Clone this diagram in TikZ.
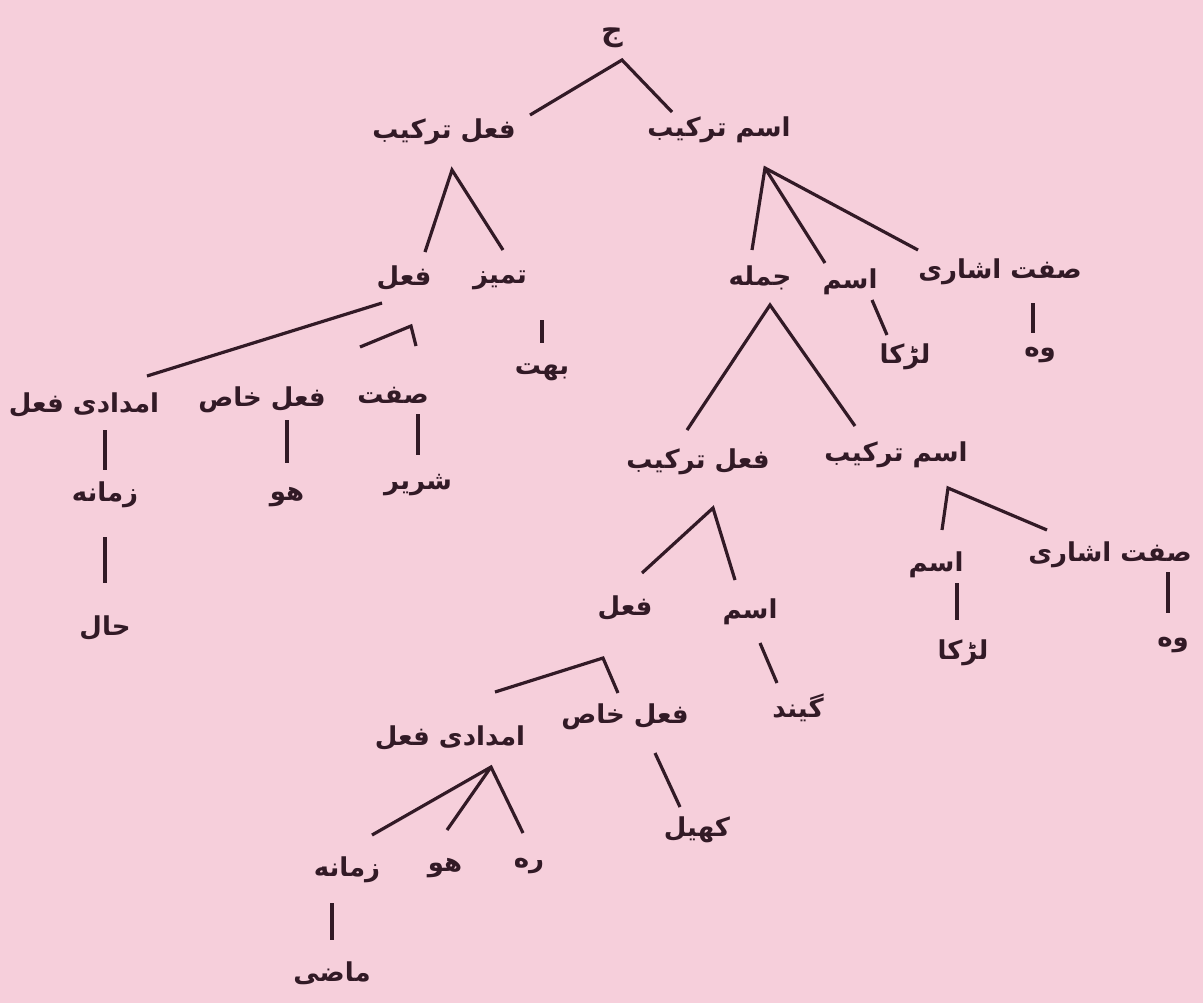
\documentclass[tikz,border=0pt]{standalone}
\usepackage{fontspec}
\usepackage{xcolor}
\usepackage{tikz}
\usetikzlibrary{calc}
\TeXXeTstate=1
\newfontfamily\urdufont[Script=Arabic]{DejaVu Sans}
\definecolor{mypink}{RGB}{246,207,219}
\definecolor{myink}{RGB}{50,26,38}
\newcommand{\ur}[1]{\beginR#1\endR}

\begin{document}
\begin{tikzpicture}[x=0.5pt, y=-0.5pt, line width=1.6pt, draw=myink]
    \tikzstyle{lbl}=[font=\urdufont\bfseries\fontsize{13}{16}\selectfont, text=myink, inner sep=1pt]
    \fill[mypink] (0,0) rectangle (1203,1003);
    \useasboundingbox (0,0) rectangle (1203,1003);

    % top
    \node[lbl, font=\urdufont\bfseries\fontsize{15}{18}\selectfont] (j) at (612,38) {\ur{ج}};
    \node[lbl] (ft1) at (444,132) {\ur{فعل ترکیب}};
    \node[lbl] (it1) at (719,130) {\ur{اسم ترکیب}};

    % under fi'l tarkib
    \node[lbl] (f1) at (404,278) {\ur{فعل}};
    \node[lbl] (tm) at (500,280) {\ur{تمیز}};
    \node[lbl] (bht) at (542,372) {\ur{بهت}};
    \node[lbl] (imf1) at (84,405) {\ur{امدادی فعل}};
    \node[lbl] (fk1) at (262,400) {\ur{فعل خاص}};
    \node[lbl] (sft) at (393,395) {\ur{صفت}};
    \node[lbl] (zm1) at (105,495) {\ur{زمانه}};
    \node[lbl] (ho1) at (287,497) {\ur{هو}};
    \node[lbl] (shr) at (418,485) {\ur{شریر}};
    \node[lbl] (hal) at (105,628) {\ur{حال}};

    % under ism tarkib
    \node[lbl] (jm) at (760,278) {\ur{جمله}};
    \node[lbl] (is1) at (850,282) {\ur{اسم}};
    \node[lbl] (sa1) at (1000,272) {\ur{صفت اشاری}};
    \node[lbl] (lk1) at (905,357) {\ur{لڑکا}};
    \node[lbl] (wo1) at (1040,355) {\ur{وه}};

    % under jumla
    \node[lbl] (ft2) at (698,462) {\ur{فعل ترکیب}};
    \node[lbl] (it2) at (896,455) {\ur{اسم ترکیب}};
    \node[lbl] (f2) at (625,608) {\ur{فعل}};
    \node[lbl] (is2) at (750,612) {\ur{اسم}};
    \node[lbl] (is3) at (936,565) {\ur{اسم}};
    \node[lbl] (sa2) at (1110,555) {\ur{صفت اشاری}};
    \node[lbl] (lk2) at (963,653) {\ur{لڑکا}};
    \node[lbl] (wo2) at (1173,645) {\ur{وه}};
    \node[lbl] (gnd) at (798,708) {\ur{گیند}};
    \node[lbl] (imf2) at (450,738) {\ur{امدادی فعل}};
    \node[lbl] (fk2) at (625,717) {\ur{فعل خاص}};
    \node[lbl] (khl) at (697,830) {\ur{کھیل}};
    \node[lbl] (zm2) at (347,870) {\ur{زمانه}};
    \node[lbl] (ho2) at (445,868) {\ur{هو}};
    \node[lbl] (rh) at (529,866) {\ur{ره}};
    \node[lbl] (mz) at (332,973) {\ur{ماضی}};

    % branch points
    \coordinate (aj) at ($(j)+(10,22)$);
    \coordinate (aft1) at ($(ft1)+(8,38)$);
    \coordinate (ait1) at ($(it1)+(46,38)$);
    \coordinate (af1) at ($(f1)+(7,48)$);
    \coordinate (ajm) at ($(jm)+(10,27)$);
    \coordinate (aft2) at ($(ft2)+(15,46)$);
    \coordinate (ait2) at ($(it2)+(52,33)$);
    \coordinate (af2) at ($(f2)+(-22,50)$);
    \coordinate (aimf2) at ($(imf2)+(41,29)$);

    \draw ($(ft1)+(86,-17)$) -- (aj) -- ($(it1)+(-47,-18)$);
    \draw ($(f1)+(21,-26)$) -- (aft1) -- ($(tm)+(3,-30)$);
    \draw ($(jm)+(-8,-28)$) -- (ait1) -- ($(sa1)+(-82,-22)$);
    \draw (ait1) -- ($(is1)+(-25,-19)$);

    \draw ($(f1)+(-22,25)$) -- ($(imf1)+(63,-29)$);
    \draw ($(fk1)+(98,-53)$) -- (af1) -- ($(sft)+(23,-49)$);
    \draw ($(tm)+(42,40)$) -- ($(bht)+(0,-29)$);
    \draw ($(sft)+(25,19)$) -- ($(shr)+(0,-30)$);
    \draw ($(fk1)+(25,20)$) -- ($(ho1)+(0,-34)$);
    \draw ($(imf1)+(21,25)$) -- ($(zm1)+(0,-25)$);
    \draw ($(zm1)+(0,42)$) -- ($(hal)+(0,-45)$);

    \draw ($(is1)+(22,18)$) -- ($(lk1)+(-18,-22)$);
    \draw ($(sa1)+(33,31)$) -- ($(wo1)+(-7,-22)$);

    \draw ($(ft2)+(-11,-32)$) -- (ajm) -- ($(it2)+(-41,-29)$);
    \draw ($(f2)+(17,-35)$) -- (aft2) -- ($(is2)+(-15,-32)$);
    \draw ($(is3)+(6,-35)$) -- (ait2) -- ($(sa2)+(-63,-25)$);
    \draw ($(is3)+(21,18)$) -- ($(lk2)+(-6,-33)$);
    \draw ($(sa2)+(58,17)$) -- ($(wo2)+(-5,-32)$);
    \draw ($(is2)+(10,31)$) -- ($(gnd)+(-21,-25)$);

    \draw ($(imf2)+(45,-46)$) -- (af2) -- ($(fk2)+(-7,-24)$);
    \draw ($(fk2)+(30,36)$) -- ($(khl)+(-17,-23)$);
    \draw ($(zm2)+(25,-35)$) -- (aimf2) -- ($(rh)+(-6,-33)$);
    \draw (aimf2) -- ($(ho2)+(2,-38)$);
    \draw ($(zm2)+(-15,33)$) -- ($(mz)+(0,-33)$);
  \end{tikzpicture}
\end{document}
